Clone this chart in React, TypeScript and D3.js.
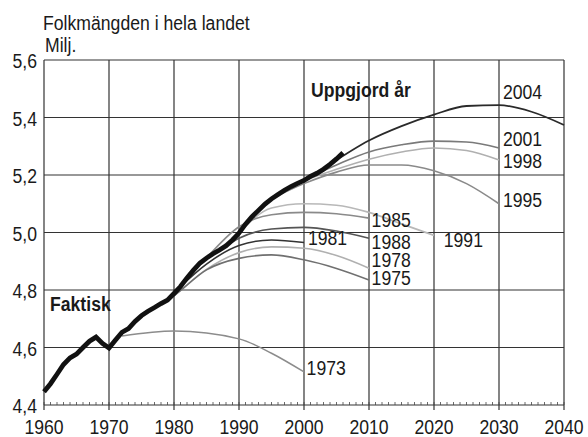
import React from 'react';
import * as d3 from 'd3';

type Pt = [number, number];

const actual: Pt[] = [
  [1960, 4.446], [1961, 4.474], [1962, 4.507], [1963, 4.541], [1964, 4.564],
  [1965, 4.577], [1966, 4.600], [1967, 4.622], [1968, 4.636], [1969, 4.614],
  [1970, 4.598], [1971, 4.626], [1972, 4.653], [1973, 4.666], [1974, 4.691],
  [1975, 4.711], [1976, 4.726], [1977, 4.739], [1978, 4.753], [1979, 4.765],
  [1980, 4.788], [1981, 4.812], [1982, 4.842], [1983, 4.869], [1984, 4.894],
  [1985, 4.911], [1986, 4.926], [1987, 4.939], [1988, 4.954], [1989, 4.974],
  [1990, 4.998], [1991, 5.029], [1992, 5.055], [1993, 5.077], [1994, 5.099],
  [1995, 5.117], [1996, 5.132], [1997, 5.147], [1998, 5.160], [1999, 5.171],
  [2000, 5.181], [2001, 5.195], [2002, 5.206], [2003, 5.220], [2004, 5.237],
  [2005, 5.256], [2006, 5.277],
];

const proj1973: Pt[] = [[1972, 4.64], [1980, 4.657], [1990, 4.63], [1995, 4.58], [2000, 4.515]];
const proj1975: Pt[] = [[1975, 4.711], [1980, 4.78], [1985, 4.87], [1990, 4.91], [1995, 4.922], [2000, 4.905], [2005, 4.875], [2010, 4.835]];
const proj1978: Pt[] = [[1978, 4.753], [1980, 4.782], [1985, 4.872], [1990, 4.93], [1995, 4.95], [2000, 4.945], [2005, 4.92], [2010, 4.876]];
const proj1981: Pt[] = [[1981, 4.812], [1985, 4.89], [1990, 4.955], [1995, 4.974], [2000, 4.965]];
const proj1985: Pt[] = [[1985, 4.911], [1990, 5.02], [1995, 5.062], [2000, 5.07], [2005, 5.065], [2010, 5.05]];
const proj1988: Pt[] = [[1988, 4.954], [1990, 4.98], [1995, 5.012], [2000, 5.018], [2005, 5.005], [2010, 4.98]];
const proj1991: Pt[] = [[1990, 4.998], [1995, 5.085], [2000, 5.1], [2005, 5.095], [2010, 5.07], [2015, 5.03], [2020, 4.99]];
const proj1995: Pt[] = [[1995, 5.117], [2000, 5.17], [2005, 5.21], [2010, 5.235], [2015, 5.235], [2020, 5.215], [2025, 5.17], [2030, 5.1]];
const proj1998: Pt[] = [[1998, 5.16], [2000, 5.18], [2005, 5.22], [2010, 5.255], [2015, 5.28], [2020, 5.294], [2025, 5.285], [2030, 5.252]];
const proj2001: Pt[] = [[2001, 5.195], [2005, 5.235], [2010, 5.28], [2015, 5.305], [2020, 5.318], [2025, 5.315], [2030, 5.294]];
const proj2004: Pt[] = [[2004, 5.237], [2010, 5.32], [2015, 5.37], [2020, 5.41], [2025, 5.44], [2030, 5.443], [2035, 5.42], [2040, 5.374]];

const xTicks = [1960, 1970, 1980, 1990, 2000, 2010, 2020, 2030, 2040];
const yTicks = [4.4, 4.6, 4.8, 5.0, 5.2, 5.4, 5.6];
const yTickLabels = ['4,4', '4,6', '4,8', '5,0', '5,2', '5,4', '5,6'];
const minorYears = d3.range(1960, 2041);

const title = 'Folkmängden i hela landet';
const unit = 'Milj.';

const W = 588;
const H = 437;
const x = d3.scaleLinear().domain([1960, 2040]).range([44, 564]);
const y = d3.scaleLinear().domain([4.4, 5.6]).range([405, 60]);

const line = d3.line<Pt>().x(d => x(d[0])).y(d => y(d[1])).curve(d3.curveMonotoneX);
const lineLin = d3.line<Pt>().x(d => x(d[0])).y(d => y(d[1]));

const FONT = "'Liberation Sans', Arial, sans-serif";
const SX = 0.84;

const series = [
  { name: '1973', data: proj1973, color: '#8c8c8c', w: 1.5, lx: 2000.4, ly: 4.504 },
  { name: '1978', data: proj1978, color: '#b0b0b0', w: 1.6, lx: 2010.4, ly: 4.88 },
  { name: '1975', data: proj1975, color: '#707070', w: 1.6, lx: 2010.4, ly: 4.817 },
  { name: '1991', data: proj1991, color: '#b8b8b8', w: 1.6, lx: 2021.5, ly: 4.95 },
  { name: '1985', data: proj1985, color: '#8a8a8a', w: 1.6, lx: 2010.4, ly: 5.019 },
  { name: '1988', data: proj1988, color: '#555555', w: 1.6, lx: 2010.4, ly: 4.943 },
  { name: '1981', data: proj1981, color: '#333333', w: 1.6, lx: 2000.6, ly: 4.957 },
  { name: '1995', data: proj1995, color: '#8a8a8a', w: 1.6, lx: 2030.6, ly: 5.089 },
  { name: '1998', data: proj1998, color: '#b0b0b0', w: 1.6, lx: 2030.6, ly: 5.224 },
  { name: '2001', data: proj2001, color: '#7a7a7a', w: 1.6, lx: 2030.6, ly: 5.301 },
  { name: '2004', data: proj2004, color: '#2a2a2a', w: 1.8, lx: 2030.6, ly: 5.464 },
];

function Txt(props: { x: number; y: number; anchor?: string; bold?: boolean; children: React.ReactNode }) {
  return (
    <g transform={`translate(${props.x},${props.y}) scale(${SX},1)`}>
      <text x={0} y={0} textAnchor={props.anchor || 'start'} fontWeight={props.bold ? 'bold' : 'normal'} fill="#1a1a1a">
        {props.children}
      </text>
    </g>
  );
}

export default function App() {
  return (
    <svg width={W} height={H} style={{ position: 'absolute', left: 0, top: 0, background: '#fff' }}
      fontFamily={FONT} fontSize={21}>
      <rect x={0} y={0} width={W} height={H} fill="#fff" />
      <Txt x={43} y={30}>{title}</Txt>
      <Txt x={45} y={52}>{unit}</Txt>
      {xTicks.map(t => (
        <line key={'gx' + t} x1={x(t)} x2={x(t)} y1={y(5.6)} y2={y(4.4) + 5} stroke="#333" strokeWidth={1.2} />
      ))}
      {yTicks.map(t => (
        <line key={'gy' + t} x1={x(1960)} x2={x(2040)} y1={y(t)} y2={y(t)} stroke="#333" strokeWidth={1.2} />
      ))}
      {minorYears.map(t => (
        <line key={'m' + t} x1={x(t)} x2={x(t)} y1={y(4.4)} y2={y(4.4) - 3} stroke="#444" strokeWidth={0.8} />
      ))}
      {yTicks.map((t, i) => (
        <Txt key={'yl' + t} x={37} y={y(t) + 8} anchor="end">{yTickLabels[i]}</Txt>
      ))}
      {xTicks.map(t => (
        <Txt key={'xl' + t} x={x(t)} y={434} anchor="middle">{t}</Txt>
      ))}
      {series.map(s => (
        <path key={s.name} d={line(s.data) || ''} fill="none" stroke={s.color} strokeWidth={s.w} />
      ))}
      <path d={lineLin(actual) || ''} fill="none" stroke="#111" strokeWidth={4.8} strokeLinejoin="miter" />
      {series.map(s => (
        <Txt key={'l' + s.name} x={x(s.lx)} y={y(s.ly)}>{s.name}</Txt>
      ))}
      <Txt x={311} y={97} bold>Uppgjord år</Txt>
      <Txt x={50} y={311} bold>Faktisk</Txt>
    </svg>
  );
}
